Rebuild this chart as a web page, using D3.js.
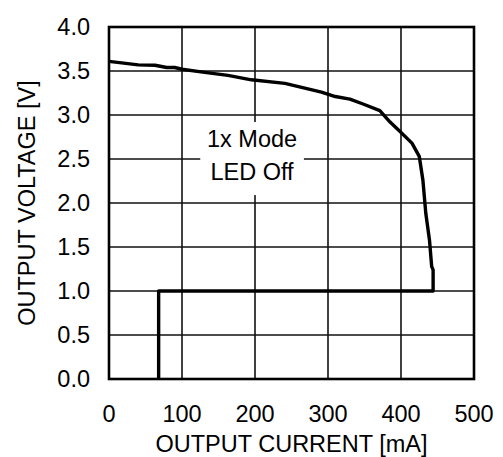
<!DOCTYPE html>
<html>
<head>
<meta charset="utf-8">
<script src="https://cdn.jsdelivr.net/npm/d3@7"></script>
<style>
  body { margin: 0; background: #fff; }
  text { font-family: "Liberation Sans", Arial, sans-serif; fill: #000; }
</style>
</head>
<body>
<div id="chart"></div>
<script>
// Output current [mA] vs output voltage [V], 1x mode, LED off
const currentMA = [0, 40, 63, 79, 90, 100, 131, 163, 195, 241, 291, 310, 330, 348, 371, 385, 399, 415, 425, 430, 434, 439, 442, 444, 444, 68, 68];
const voltageV = [3.61, 3.57, 3.565, 3.54, 3.54, 3.52, 3.485, 3.45, 3.40, 3.36, 3.26, 3.21, 3.18, 3.125, 3.05, 2.92, 2.81, 2.68, 2.53, 2.26, 1.88, 1.58, 1.28, 1.24, 1.0, 1.0, 0];

const xTicks = [0, 100, 200, 300, 400, 500];
const yTicks = [0, 0.5, 1.0, 1.5, 2.0, 2.5, 3.0, 3.5, 4.0];
const labelLines = ["1x Mode", "LED Off"];

const width = 503, height = 457;
const margin = { left: 109, right: 29, top: 27, bottom: 78 };
const fontSize = 23.5;

const svg = d3.select("#chart").append("svg")
    .attr("width", width)
    .attr("height", height);

const x = d3.scaleLinear().domain([0, 500]).range([margin.left, width - margin.right]);
const y = d3.scaleLinear().domain([0, 4]).range([height - margin.bottom, margin.top]);

// Grid lines
svg.append("g")
    .selectAll("line")
    .data(xTicks.slice(1, -1))
    .enter().append("line")
    .attr("x1", d => x(d)).attr("x2", d => x(d))
    .attr("y1", y(0)).attr("y2", y(4))
    .attr("stroke", "#111").attr("stroke-width", 1.6);

svg.append("g")
    .selectAll("line")
    .data(yTicks.slice(1, -1))
    .enter().append("line")
    .attr("x1", x(0)).attr("x2", x(500))
    .attr("y1", d => y(d)).attr("y2", d => y(d))
    .attr("stroke", "#111").attr("stroke-width", 1.6);

// Label box covers the grid behind the text
svg.append("rect")
    .attr("x", x(125)).attr("y", y(2.92))
    .attr("width", x(267) - x(125)).attr("height", y(2.09) - y(2.92))
    .attr("fill", "#fff");

svg.selectAll(".lbl")
    .data(labelLines)
    .enter().append("text")
    .attr("class", "lbl")
    .attr("x", x(196))
    .attr("y", (d, i) => y(2.64) + i * 33)
    .attr("text-anchor", "middle")
    .attr("font-size", fontSize)
    .text(d => d);

// Curve
const line = d3.line()
    .x((d, i) => x(currentMA[i]))
    .y(d => y(d));

svg.append("path")
    .datum(voltageV)
    .attr("d", line)
    .attr("fill", "none")
    .attr("stroke", "#000")
    .attr("stroke-width", 3.4)
    .attr("stroke-linejoin", "round");

// Plot frame
svg.append("rect")
    .attr("x", x(0)).attr("y", y(4))
    .attr("width", x(500) - x(0)).attr("height", y(0) - y(4))
    .attr("fill", "none")
    .attr("stroke", "#000")
    .attr("stroke-width", 2.6);

// Tick labels
svg.selectAll(".xt")
    .data(xTicks)
    .enter().append("text")
    .attr("x", d => x(d))
    .attr("y", 422)
    .attr("text-anchor", "middle")
    .attr("font-size", fontSize)
    .text(d => d);

svg.selectAll(".yt")
    .data(yTicks)
    .enter().append("text")
    .attr("x", 90)
    .attr("y", d => y(d))
    .attr("dy", "0.35em")
    .attr("text-anchor", "end")
    .attr("font-size", fontSize)
    .text(d => d.toFixed(1));

// Axis titles
svg.append("text")
    .attr("x", (x(0) + x(500)) / 2)
    .attr("y", 452)
    .attr("text-anchor", "middle")
    .attr("font-size", fontSize)
    .text("OUTPUT CURRENT [mA]");

svg.append("text")
    .attr("transform", `translate(35,${(y(0) + y(4)) / 2}) rotate(-90)`)
    .attr("text-anchor", "middle")
    .attr("font-size", fontSize)
    .text("OUTPUT VOLTAGE [V]");
</script>
</body>
</html>
